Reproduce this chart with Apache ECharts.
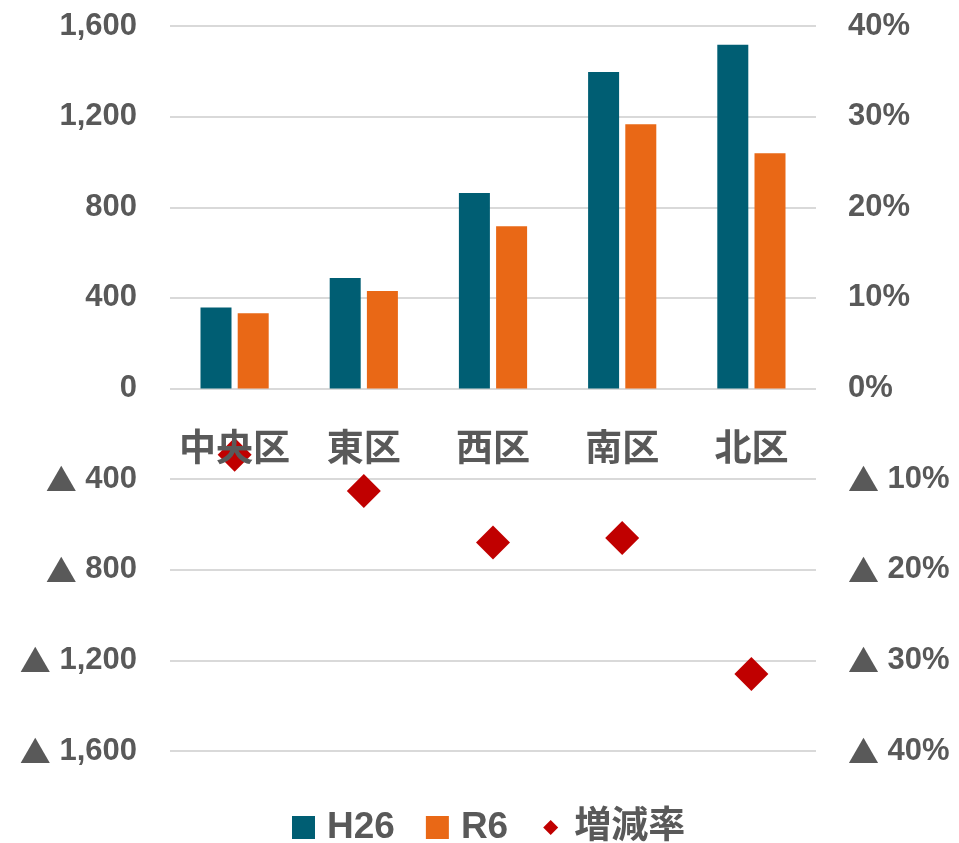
<!DOCTYPE html>
<html><head><meta charset="utf-8">
<script src="https://cdn.jsdelivr.net/npm/echarts@6/dist/echarts.min.js"></script>
<style>html,body{margin:0;padding:0;background:#fff}#c{width:959px;height:843px}</style>
</head><body><div id="c"></div>
<script>
const categories = ['中央区', '東区', '西区', '南区', '北区'];
const h26 = [358, 488, 863, 1397, 1517];
const r6 = [332, 430, 716, 1166, 1038];
const rate = [-7.3, -11.3, -17.0, -16.5, -31.5];
const leftTicks = [-1600, 1600, 400];
const rightTicks = [-40, 40, 10];

const gray = '#595959';
const numFont = "'Liberation Sans','Noto Sans CJK JP',sans-serif";
const cjkFont = "'Noto Sans CJK JP','Liberation Sans',sans-serif";
function fmtNum(v) {
  const s = Math.abs(v).toLocaleString('en-US');
  return v < 0 ? '{t|▲} ' + s : s;
}
function fmtPct(v) {
  const s = Math.abs(v) + '%';
  return v < 0 ? '{t|▲} ' + s : s;
}
const triRich = { t: { fontFamily: cjkFont, fontSize: 31, color: gray, fontWeight: 'bold' } };
const chart = echarts.init(document.getElementById('c'));
chart.setOption({
  animation: false,
  grid: { left: 170, right: 143, top: 26, bottom: 92, containLabel: false },
  legend: {
    left: 287, top: 804,
    itemWidth: 23, itemHeight: 23, itemGap: 31,
    textStyle: { fontSize: 37, fontWeight: 'bold', color: gray, fontFamily: numFont, padding: [0, 0, 0, 7] },
    data: [
      { name: 'H26', icon: 'rect' },
      { name: 'R6', icon: 'rect' },
      { name: '増減率', icon: 'path://M0,0M23,23M11.5,4L19,11.5L11.5,19L4,11.5Z' }
    ]
  },
  xAxis: {
    type: 'category', data: categories, z: 10, position: 'bottom', offset: -362.5,
    axisLine: { show: false, onZero: false },
    axisTick: { show: false },
    axisLabel: { interval: 0, fontSize: 37, fontWeight: 'bold', color: gray, fontFamily: cjkFont, margin: 40 }
  },
  yAxis: [
    {
      type: 'value', min: leftTicks[0], max: leftTicks[1], interval: leftTicks[2],
      axisLine: { show: false }, axisTick: { show: false },
      splitLine: { lineStyle: { color: '#d9d9d9', width: 2 } },
      axisLabel: { fontSize: 31, fontWeight: 'bold', color: gray, fontFamily: numFont, margin: 33, formatter: fmtNum, rich: triRich }
    },
    {
      type: 'value', min: rightTicks[0], max: rightTicks[1], interval: rightTicks[2],
      axisLine: { show: false }, axisTick: { show: false }, splitLine: { show: false },
      axisLabel: { fontSize: 31, fontWeight: 'bold', color: gray, fontFamily: numFont, margin: 32, formatter: fmtPct, rich: triRich }
    }
  ],
  series: [
    { name: 'H26', type: 'bar', data: h26, barWidth: 31, barGap: '20%', itemStyle: { color: '#005E73' } },
    { name: 'R6', type: 'bar', data: r6, barWidth: 31, itemStyle: { color: '#E96816' } },
    { name: '増減率', type: 'scatter', yAxisIndex: 1, data: rate, symbol: 'diamond', symbolSize: 34, itemStyle: { color: '#C00000', opacity: 1 }, z: 3 }
  ]
});
</script></body></html>
